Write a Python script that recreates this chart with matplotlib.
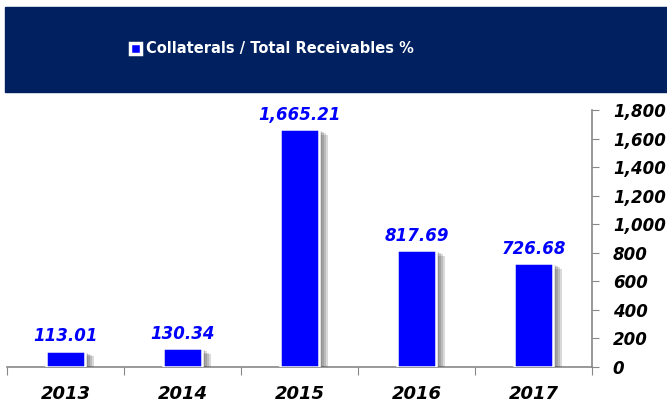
import matplotlib
matplotlib.use("Agg")
import matplotlib.pyplot as plt
import matplotlib.patheffects as pe
from matplotlib.patches import Rectangle
from matplotlib.ticker import FuncFormatter

years = ["2013", "2014", "2015", "2016", "2017"]
ratios = [113.01, 130.34, 1665.21, 817.69, 726.68]
series_name = "Collaterals / Total Receivables %"

W, H = 667, 408
fig = plt.figure(figsize=(W / 100, H / 100), dpi=100)

# navy header band with the legend-like title
fig.patches.append(Rectangle((5 / W, 1 - 92 / H), 1 - 5 / W, 85 / H,
                             transform=fig.transFigure, color="#00205f", zorder=0))
fig.text(146 / W, 1 - 48 / H, series_name, color="white", fontsize=10.5,
         fontweight="bold", ha="left", va="center")
fig.patches.append(Rectangle((130 / W, 1 - 54 / H), 11 / W, 11 / H,
                             transform=fig.transFigure, facecolor="#0000ff",
                             edgecolor="white", linewidth=2.5, zorder=2))

ax = fig.add_axes([7 / W, (H - 367) / H, (592 - 7) / W, (367 - 110) / H])
x = range(len(years))
bars = ax.bar(x, ratios, width=0.33, color="#0000ff", edgecolor="white", linewidth=1.8,
              zorder=3)
shadow = [pe.SimplePatchShadow(offset=(o, -o * 0.6), shadow_rgbFace="#444444", alpha=0.2)
          for o in (6.5, 5, 3.5, 2)]
for b in bars:
    b.set_path_effects(shadow + [pe.Normal()])

for xi, v in zip(x, ratios):
    ax.text(xi, v + 40, f"{v:,.2f}", ha="center", va="bottom", color="#0000ff",
            fontsize=12, fontweight="bold", fontstyle="italic")

ax.set_xlim(-0.5, len(years) - 0.5)
ax.set_ylim(0, 1800)
ax.set_yticks(range(0, 1801, 200))
ax.yaxis.set_major_formatter(FuncFormatter(lambda v, p: f"{int(v):,}"))
ax.yaxis.tick_right()
ax.tick_params(axis="y", direction="out", length=5, color="#888888", pad=10,
               labelsize=12)
for lab in ax.get_yticklabels():
    lab.set_fontweight("bold")
    lab.set_fontstyle("italic")

ax.set_xticks([i - 0.5 for i in range(len(years) + 1)])
ax.set_xticklabels([])
ax.tick_params(axis="x", direction="out", length=6, color="#888888")
for xi, yr in zip(x, years):
    ax.text(xi, -0.07, yr, transform=ax.get_xaxis_transform(), ha="center", va="top",
            fontsize=13, fontweight="bold", fontstyle="italic", color="black")

for side in ["top", "left"]:
    ax.spines[side].set_visible(False)
for side in ["bottom", "right"]:
    ax.spines[side].set_color("#888888")
    ax.spines[side].set_linewidth(1.2)

fig.savefig("out.png", dpi=100)
